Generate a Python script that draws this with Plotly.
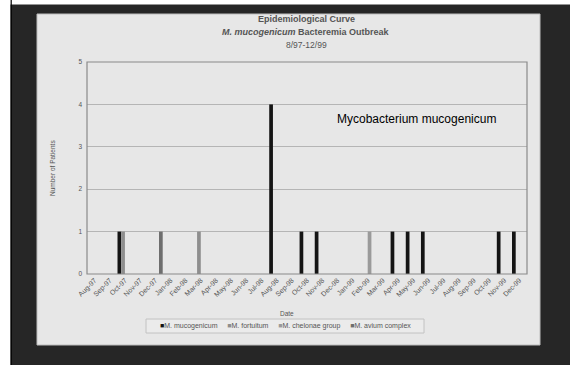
import plotly.graph_objects as go

# Monthly categories, Aug-97 .. Dec-99
months = ["Aug-97", "Sep-97", "Oct-97", "Nov-97", "Dec-97", "Jan-98", "Feb-98", "Mar-98",
          "Apr-98", "May-98", "Jun-98", "Jul-98", "Aug-98", "Sep-98", "Oct-98", "Nov-98",
          "Dec-98", "Jan-99", "Feb-99", "Mar-99", "Apr-99", "May-99", "Jun-99", "Jul-99",
          "Aug-99", "Sep-99", "Oct-99", "Nov-99", "Dec-99"]

# Patients per month for each organism
mucogenicum = [0, 0, 1, 0, 0, 0, 0, 0, 0, 0, 0, 0, 4, 0, 1, 1, 0, 0, 0, 0, 1, 1, 1, 0, 0, 0, 0, 1, 1]
fortuitum   = [0, 0, 1, 0, 0, 0, 0, 1, 0, 0, 0, 0, 0, 0, 0, 0, 0, 0, 0, 0, 0, 0, 0, 0, 0, 0, 0, 0, 0]
chelonae    = [0, 0, 0, 0, 0, 0, 0, 0, 0, 0, 0, 0, 0, 0, 0, 0, 0, 0, 1, 0, 0, 0, 0, 0, 0, 0, 0, 0, 0]
avium       = [0, 0, 0, 0, 1, 0, 0, 0, 0, 0, 0, 0, 0, 0, 0, 0, 0, 0, 0, 0, 0, 0, 0, 0, 0, 0, 0, 0, 0]

series_names = ["M. mucogenicum", "M. fortuitum", "M. chelonae group", "M. avium complex"]
series_values = [mucogenicum, fortuitum, chelonae, avium]
series_colors = ["#141414", "#8e8e8e", "#9a9a9a", "#6e6e6e"]

W, H = 570, 365
L, R, T, B = 87, 527, 62, 274   # plot area in pixels


def px(x):
    return (x - L) / (R - L)


def py(y):
    return (B - y) / (B - T)


fig = go.Figure()
for name, vals, col in zip(series_names, series_values, series_colors):
    fig.add_trace(go.Bar(x=months, y=vals, name=name, marker_color=col,
                         marker_line_width=0, showlegend=False))

FONT = "Liberation Sans, Arial, sans-serif"
TXT = "#555555"

shapes = [
    # white strips at top and left edge of the photo
    dict(type="rect", xref="paper", yref="paper", x0=px(0), x1=px(W), y0=py(0), y1=py(4.5),
         fillcolor="#ffffff", line_width=0, layer="below"),
    dict(type="rect", xref="paper", yref="paper", x0=px(0), x1=px(10.5), y0=py(0), y1=py(H),
         fillcolor="#ffffff", line_width=0, layer="below"),
    dict(type="line", xref="paper", yref="paper", x0=px(11.2), x1=px(11.2), y0=py(0), y1=py(H),
         line=dict(color="#000000", width=1.2), layer="below"),
    # slide
    dict(type="rect", xref="paper", yref="paper", x0=px(37), x1=px(540), y0=py(14), y1=py(345),
         fillcolor="#e7e7e7", line=dict(color="#bdbdbd", width=1), layer="below"),
    # plot frame
    dict(type="rect", xref="paper", yref="paper", x0=0, x1=1, y0=0, y1=1,
         line=dict(color="#8a8a8a", width=1.2), fillcolor="rgba(0,0,0,0)", layer="above"),
    # legend box
    dict(type="rect", xref="paper", yref="paper", x0=px(146), x1=px(424), y0=py(319), y1=py(333),
         line=dict(color="#c2c2c2", width=1), fillcolor="#ebebeb", layer="below"),
]

# legend entries drawn as coloured squares followed by the series name
legend_text = "&nbsp;&nbsp;&nbsp;&nbsp;&nbsp;".join(
    f'<span style="color:{c}">■</span>{n}' for n, c in zip(series_names, series_colors)
)


def note(text, x, y, size, color=TXT, **kw):
    return dict(text=text, x=px(x), y=py(y), xref="paper", yref="paper", showarrow=False,
                xanchor=kw.pop("xanchor", "center"), yanchor="middle",
                font=dict(family=FONT, size=size, color=color), **kw)


annotations = [
    note("<b>Epidemiological Curve</b>", 306, 19, 9),
    note("<b><i>M. mucogenicum</i> Bacteremia Outbreak</b>", 306, 32, 9),
    note("8/97-12/99", 306, 45, 8.5),
    note("Number of Patients", 52, 168, 6.5, textangle=-90),
    note("Date", 287, 313, 6.5),
    note("Mycobacterium mucogenicum", 335, 119, 12, color="#000000", xanchor="left"),
    note(legend_text, 285, 326, 7),
]

fig.update_layout(
    width=W, height=H,
    margin=dict(l=L, r=W - R, t=T, b=H - B, pad=0),
    paper_bgcolor="#262626",
    plot_bgcolor="#efefef",
    barmode="group", bargap=0.02, bargroupgap=0,
    showlegend=False,
    shapes=shapes,
    annotations=annotations,
    font=dict(family=FONT, color=TXT),
)
fig.update_xaxes(type="category", tickangle=-45, tickfont=dict(size=7, color=TXT),
                 showgrid=False, ticks="", showline=False, range=[-0.5, len(months) - 0.5])
fig.update_yaxes(range=[0, 5], dtick=1, tickfont=dict(size=6.5, color=TXT),
                 showgrid=True, gridcolor="#b5b5b5", gridwidth=1, zeroline=False,
                 ticks="", ticklabelstandoff=4)

fig.write_html("out.html")
